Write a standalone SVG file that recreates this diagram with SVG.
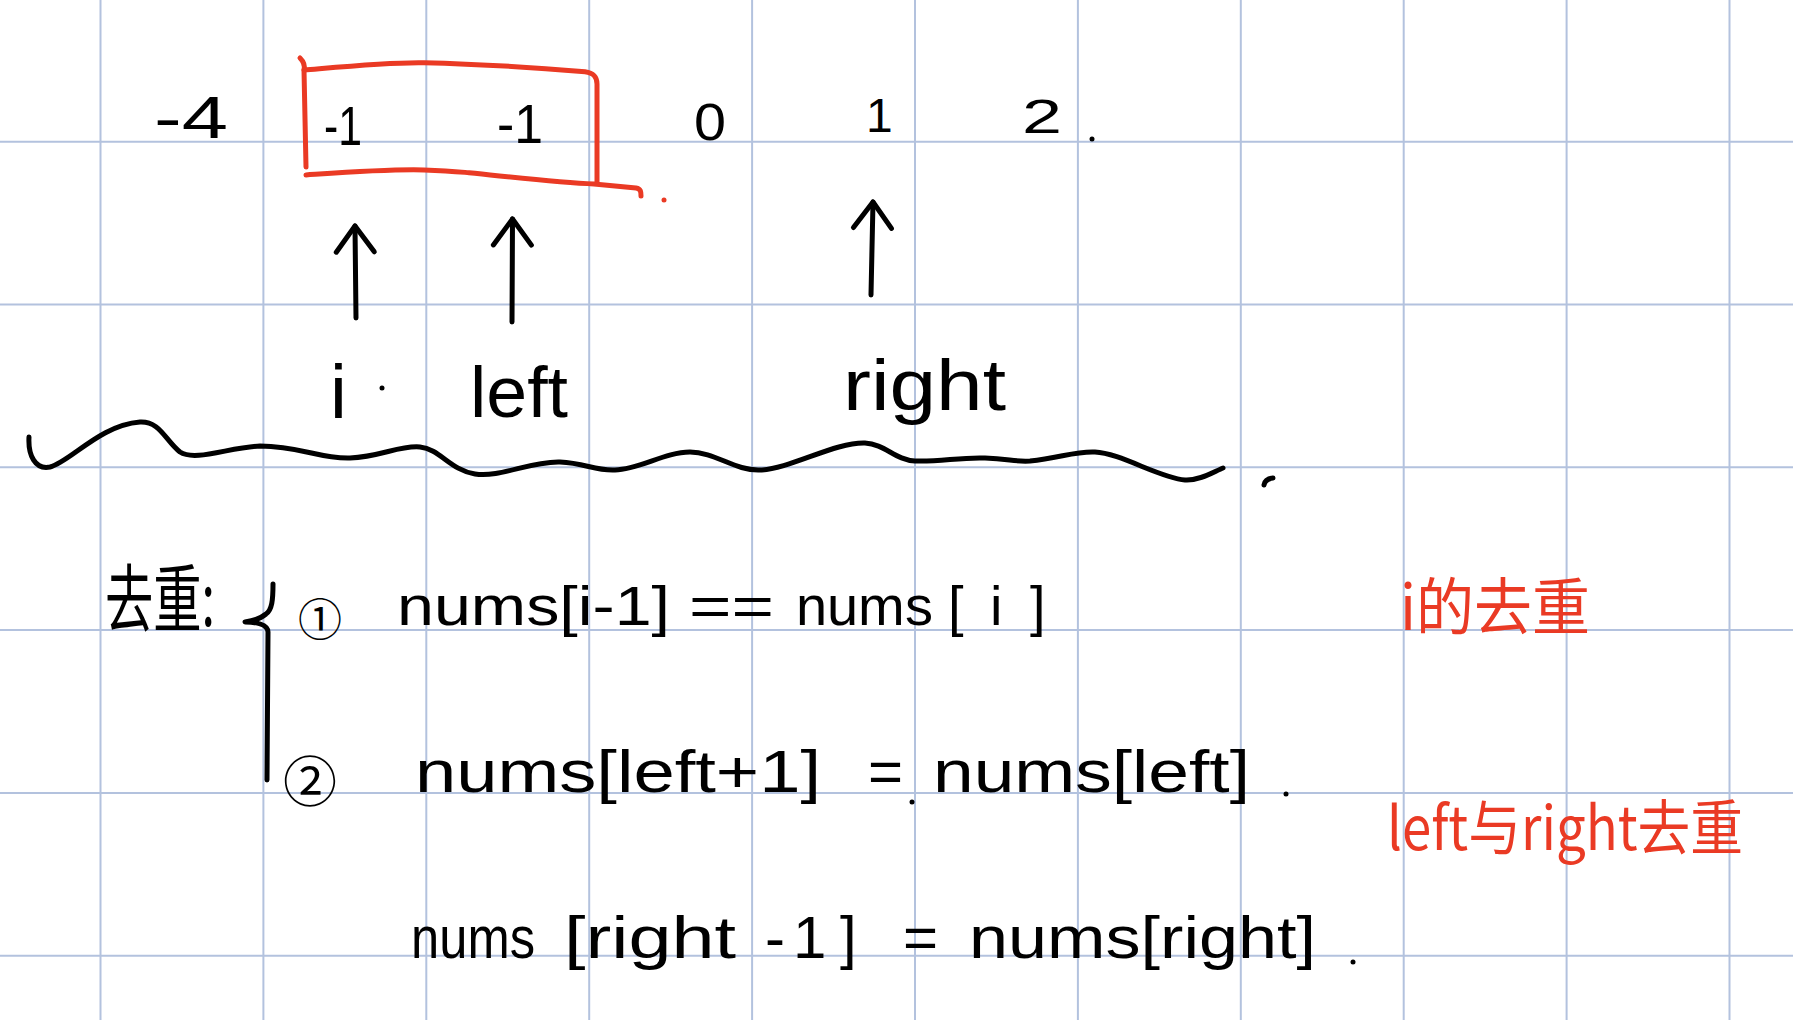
<svg xmlns="http://www.w3.org/2000/svg" width="1793" height="1020" viewBox="0 0 1793 1020">
<defs>
<style>
.grid line{stroke:#b3c2de;stroke-width:2}
.ink{fill:none;stroke:#000;stroke-width:5;stroke-linecap:round;stroke-linejoin:round}
.redink{fill:none;stroke:#ea3a24;stroke-width:5;stroke-linecap:round;stroke-linejoin:round}
.hw{font-family:"Liberation Sans","DejaVu Sans",sans-serif;fill:#000}
.cjk{font-family:"Noto Sans CJK SC","Noto Sans",sans-serif;fill:#000}
.red{fill:#ea3a24}
</style>
<marker id="head" viewBox="-32 -32 64 64" markerWidth="64" markerHeight="64" refX="0" refY="0" orient="auto" markerUnits="userSpaceOnUse">
<path d="M-26,-19 L0,0 L-26,19" fill="none" stroke="#000" stroke-width="5" stroke-linecap="round" stroke-linejoin="round"/>
</marker>
</defs>
<rect width="1793" height="1020" fill="#fff"/>
<g id="grid" class="grid">
<line x1="100.5" y1="0" x2="100.5" y2="1020"/>
<line x1="263.4" y1="0" x2="263.4" y2="1020"/>
<line x1="426.3" y1="0" x2="426.3" y2="1020"/>
<line x1="589.2" y1="0" x2="589.2" y2="1020"/>
<line x1="752.1" y1="0" x2="752.1" y2="1020"/>
<line x1="915" y1="0" x2="915" y2="1020"/>
<line x1="1077.9" y1="0" x2="1077.9" y2="1020"/>
<line x1="1240.8" y1="0" x2="1240.8" y2="1020"/>
<line x1="1403.7" y1="0" x2="1403.7" y2="1020"/>
<line x1="1566.6" y1="0" x2="1566.6" y2="1020"/>
<line x1="1729.5" y1="0" x2="1729.5" y2="1020"/>
<line x1="0" y1="141.7" x2="1793" y2="141.7"/>
<line x1="0" y1="304.5" x2="1793" y2="304.5"/>
<line x1="0" y1="467.3" x2="1793" y2="467.3"/>
<line x1="0" y1="630.1" x2="1793" y2="630.1"/>
<line x1="0" y1="793" x2="1793" y2="793"/>
<line x1="0" y1="955.8" x2="1793" y2="955.8"/>
</g>

<g id="array">
<text class="hw" x="154" y="138" font-size="60" textLength="74" lengthAdjust="spacingAndGlyphs">-4</text>
<text class="hw" x="324" y="145" font-size="56" textLength="38" lengthAdjust="spacingAndGlyphs">-1</text>
<text class="hw" x="497" y="143" font-size="56" textLength="46" lengthAdjust="spacingAndGlyphs">-1</text>
<text class="hw" x="694" y="140" font-size="52" textLength="32" lengthAdjust="spacingAndGlyphs">0</text>
<text class="hw" x="866" y="132" font-size="48">1</text>
<text class="hw" x="1022" y="133" font-size="48" textLength="40" lengthAdjust="spacingAndGlyphs">2</text>
<circle cx="1092" cy="139" r="2.5" fill="#000"/>
</g>

<g id="window">
<path class="redink" d="M300,58 C304,62 305,66 304,70 L306,167"/>
<path class="redink" d="M304,70 C350,66 390,62 424,62.7 C480,64 540,68 585,71.7 C594,73 597,77 597,84 L597,183"/>
<path class="redink" d="M306,175 C350,172 390,169 424,170 C450,171 460,172 469,172.7 C520,178 560,183 594,184 L636,188 C641,189 641,192 641,196"/>
<circle cx="664" cy="200" r="2.5" fill="#ea3a24"/>
</g>

<g id="connectors">
<path class="ink" d="M356,318 L355,226" marker-end="url(#head)"/>
<path class="ink" d="M512,322 L512.5,219" marker-end="url(#head)"/>
<path class="ink" d="M871,295 L873,202" marker-end="url(#head)"/>
<path class="ink" d="M29,437 C28,455 35,470 50,467 C70,462 100,425 140,422 C160,421 165,440 180,452 C195,462 230,447 260,446 C300,446 320,459 350,458 C380,457 400,445 420,447 C440,449 450,470 475,474 C500,478 530,461 560,462 C585,463 595,471 615,470 C640,469 665,452 690,452 C715,452 735,471 760,470 C790,469 835,442 865,443 C885,444 895,460 915,461 C940,462 960,457 985,458 C1010,459 1015,462 1030,461 C1060,458 1075,451 1095,452 C1120,453 1160,478 1185,480 C1200,481 1215,471 1223,468"/>
<path class="ink" d="M1264,485 Q1265,479 1273,478" stroke-width="4"/>
<path class="ink" d="M273,584 C273,600 272,610 266,614 C260,619 252,621 245,622 C255,622 268,624 268,632 L267,780"/>
</g>

<g id="label-i">
<text class="hw" x="330" y="418" font-size="76">i</text>
<circle cx="382" cy="388" r="2.5" fill="#000"/>
</g>
<g id="label-left">
<text class="hw" x="470" y="417" font-size="72" textLength="98" lengthAdjust="spacingAndGlyphs">left</text>
</g>
<g id="label-right">
<text class="hw" x="843" y="410" font-size="72" textLength="163" lengthAdjust="spacingAndGlyphs">right</text>
</g>

<g id="dedup-title">
<text class="cjk" x="105" y="626" font-size="74" textLength="110" lengthAdjust="spacingAndGlyphs">去重:</text>
</g>

<g id="rule-1">
<text class="cjk" x="320" y="636" font-size="44" text-anchor="middle">①</text>
<text class="hw" x="397" y="625" font-size="56" textLength="273" lengthAdjust="spacingAndGlyphs">nums[i-1]</text>
<text class="hw" x="689" y="625" font-size="56" textLength="85" lengthAdjust="spacingAndGlyphs">==</text>
<text class="hw" x="796 827 858 905 948 990 1030" y="625" font-size="56">nums[i]</text>
</g>

<g id="rule-2">
<text class="cjk" x="310" y="802" font-size="54" text-anchor="middle">②</text>
<text class="hw" x="415" y="792" font-size="60" textLength="406" lengthAdjust="spacingAndGlyphs">nums[left+1]</text>
<text class="hw" x="868" y="792" font-size="60">=</text>
<circle cx="912" cy="802" r="2.5" fill="#000"/>
<text class="hw" x="933" y="792" font-size="60" textLength="317" lengthAdjust="spacingAndGlyphs">nums[left]</text>
<circle cx="1286" cy="794" r="2.5" fill="#000"/>
</g>

<g id="rule-3">
<text class="hw" x="411" y="958" font-size="60" textLength="124" lengthAdjust="spacingAndGlyphs">nums</text>
<text class="hw" x="564" y="958" font-size="60" textLength="172" lengthAdjust="spacingAndGlyphs">[right</text>
<text class="hw" x="765 793 840" y="958" font-size="60">-1]</text>
<text class="hw" x="903" y="958" font-size="60">=</text>
<text class="hw" x="969" y="958" font-size="60" textLength="347" lengthAdjust="spacingAndGlyphs">nums[right]</text>
<circle cx="1353" cy="962" r="2.5" fill="#000"/>
</g>

<g id="note-i">
<text class="cjk red" x="1400" y="630" font-size="62" textLength="190" lengthAdjust="spacingAndGlyphs">i的去重</text>
</g>
<g id="note-left-right">
<text class="cjk red" x="1387" y="850" font-size="60" textLength="356" lengthAdjust="spacingAndGlyphs">left与right去重</text>
</g>
</svg>
